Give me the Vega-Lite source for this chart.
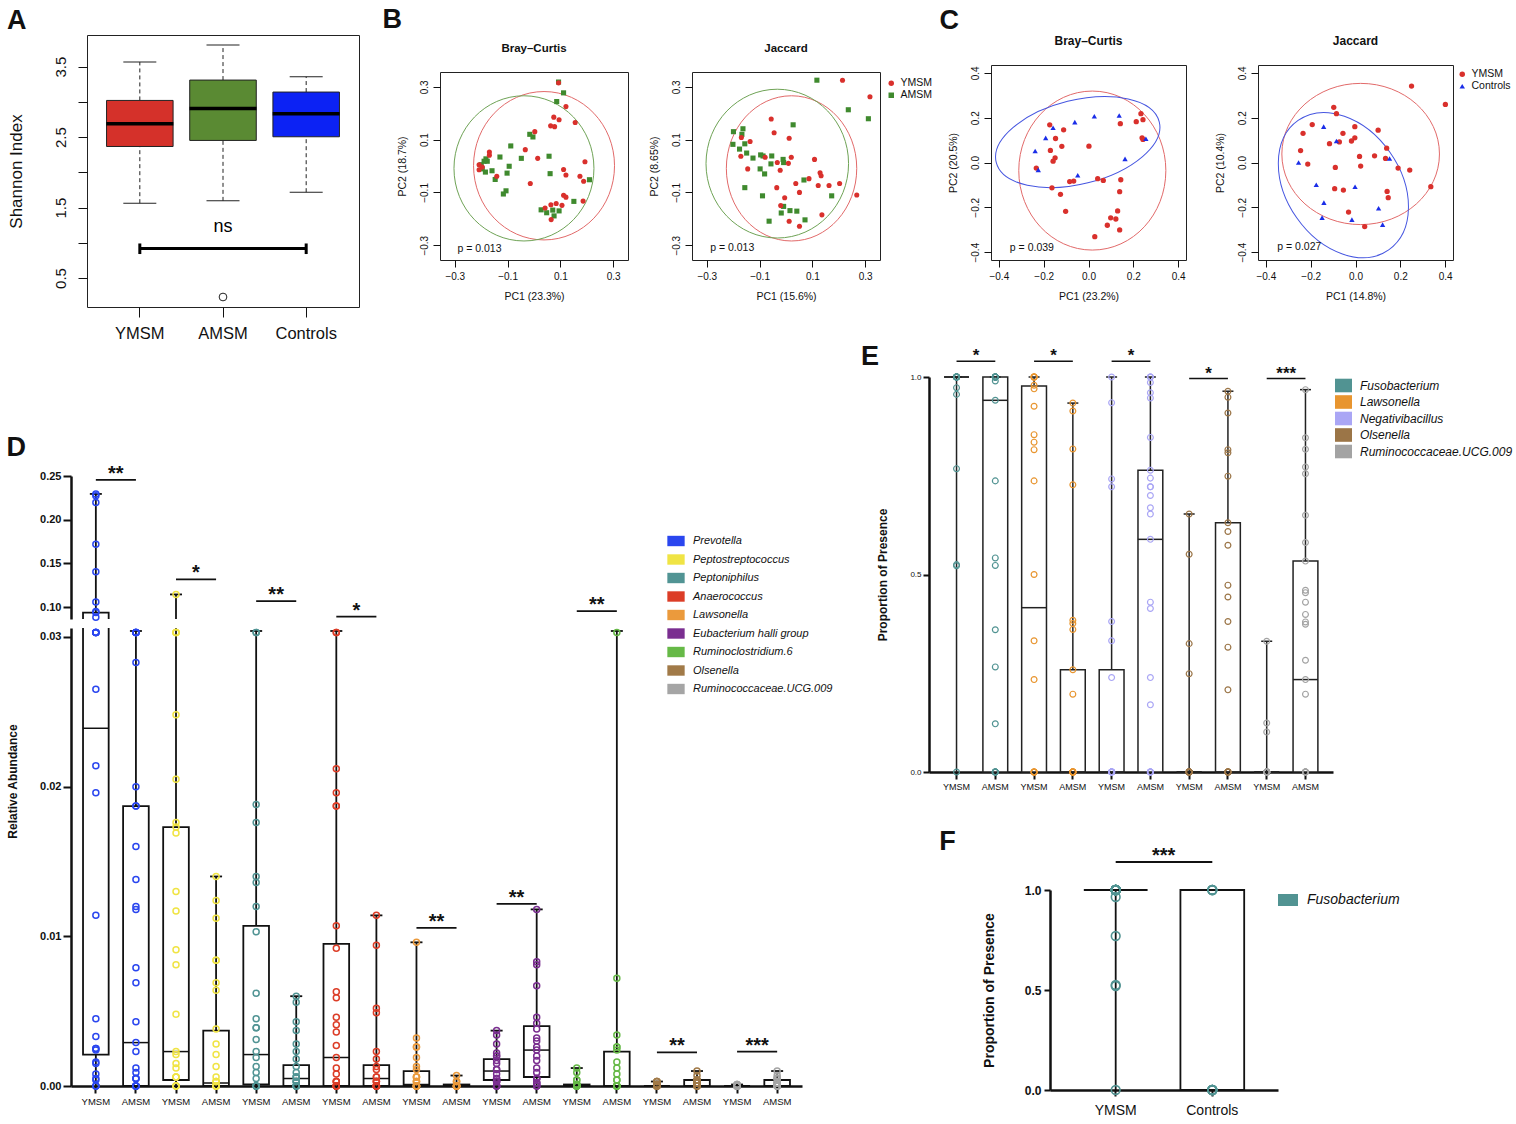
{
"$schema":"https://vega.github.io/schema/vega-lite/v6.json",
"background":"white",
"padding":5,
"config":{
 "font":"Liberation Sans",
 "view":{"stroke":null},
 "axis":{"grid":false,"labelColor":"#111","titleColor":"#111","tickColor":"#111","domainColor":"#111","labelFont":"Liberation Sans","titleFont":"Liberation Sans"},
 "legend":{"labelFont":"Liberation Sans","labelColor":"#111"},
 "title":{"font":"Liberation Sans","color":"#111"}
},
"datasets":{
 "dsum":[
  {"c":"01Y","g":"Prevotella","min":0,"q1":0.0021,"med":0.0239,"q3":0.0937,"max":0.2295},
  {"c":"01A","g":"Prevotella","min":0,"q1":0,"med":0.0029,"q3":0.0187,"max":0.0304},
  {"c":"02Y","g":"Peptostreptococcus","min":0,"q1":0.0004,"med":0.0023,"q3":0.0173,"max":0.1146},
  {"c":"02A","g":"Peptostreptococcus","min":0,"q1":0,"med":0.0002,"q3":0.0037,"max":0.014},
  {"c":"03Y","g":"Peptoniphilus","min":0,"q1":0.0001,"med":0.0021,"q3":0.0107,"max":0.0304},
  {"c":"03A","g":"Peptoniphilus","min":0,"q1":0,"med":0.0005,"q3":0.0014,"max":0.006},
  {"c":"04Y","g":"Anaerococcus","min":0,"q1":0,"med":0.0019,"q3":0.0095,"max":0.0304},
  {"c":"04A","g":"Anaerococcus","min":0,"q1":0,"med":0.0005,"q3":0.0014,"max":0.0114},
  {"c":"05Y","g":"Lawsonella","min":0,"q1":0,"med":0.0001,"q3":0.001,"max":0.0096},
  {"c":"05A","g":"Lawsonella","min":0,"q1":0,"med":0,"q3":0.0001,"max":0.0007},
  {"c":"06Y","g":"Eubacterium halli group","min":0,"q1":0.0004,"med":0.001,"q3":0.0018,"max":0.0037},
  {"c":"06A","g":"Eubacterium halli group","min":0,"q1":0.0006,"med":0.0024,"q3":0.004,"max":0.0118},
  {"c":"07Y","g":"Ruminoclostridium.6","min":0,"q1":0,"med":0,"q3":0.0001,"max":0.0012},
  {"c":"07A","g":"Ruminoclostridium.6","min":0,"q1":0,"med":0,"q3":0.0023,"max":0.0304},
  {"c":"08Y","g":"Olsenella","min":0,"q1":0,"med":0,"q3":0,"max":0.0003},
  {"c":"08A","g":"Olsenella","min":0,"q1":0,"med":0,"q3":0.0004,"max":0.001},
  {"c":"09Y","g":"Ruminococcaceae.UCG.009","min":0,"q1":0,"med":0,"q3":0,"max":0.0001},
  {"c":"09A","g":"Ruminococcaceae.UCG.009","min":0,"q1":0,"med":0,"q3":0.0004,"max":0.001}
 ],
 "dpts":[
  {"c":"01Y","v":0.2295},{"c":"01Y","v":0.2275},{"c":"01Y","v":0.2198},{"c":"01Y","v":0.172},{"c":"01Y","v":0.1405},{"c":"01Y","v":0.106},{"c":"01Y","v":0.095},{"c":"01Y","v":0.094},{"c":"01Y","v":0.0885},{"c":"01Y","v":0.0303},{"c":"01Y","v":0.0303},{"c":"01Y","v":0.0303},{"c":"01Y","v":0.0303},{"c":"01Y","v":0.0303},{"c":"01Y","v":0.0265},{"c":"01Y","v":0.0214},{"c":"01Y","v":0.0196},{"c":"01Y","v":0.0114},{"c":"01Y","v":0.0045},{"c":"01Y","v":0.0033},{"c":"01Y","v":0.0025},{"c":"01Y","v":0.0025},{"c":"01Y","v":0.0024},{"c":"01Y","v":0.0016},{"c":"01Y","v":0.0015},{"c":"01Y","v":0.0008},{"c":"01Y","v":0.0005},{"c":"01Y","v":0.0004},{"c":"01Y","v":0},{"c":"01Y","v":0},{"c":"01Y","v":0},
  {"c":"01A","v":0.0303},{"c":"01A","v":0.0303},{"c":"01A","v":0.0303},{"c":"01A","v":0.0303},{"c":"01A","v":0.0303},{"c":"01A","v":0.0283},{"c":"01A","v":0.02},{"c":"01A","v":0.0187},{"c":"01A","v":0.0187},{"c":"01A","v":0.016},{"c":"01A","v":0.0138},{"c":"01A","v":0.012},{"c":"01A","v":0.0118},{"c":"01A","v":0.0079},{"c":"01A","v":0.0069},{"c":"01A","v":0.0043},{"c":"01A","v":0.0029},{"c":"01A","v":0.0023},{"c":"01A","v":0.0012},{"c":"01A","v":0.0009},{"c":"01A","v":0.0005},{"c":"01A","v":0.0005},{"c":"01A","v":0.0005},{"c":"01A","v":0},{"c":"01A","v":0},{"c":"01A","v":0},{"c":"01A","v":0},{"c":"01A","v":0},{"c":"01A","v":0},{"c":"01A","v":0},{"c":"01A","v":0},
  {"c":"02Y","v":0.1146},{"c":"02Y","v":0.0303},{"c":"02Y","v":0.0303},{"c":"02Y","v":0.0303},{"c":"02Y","v":0.0248},{"c":"02Y","v":0.0205},{"c":"02Y","v":0.0176},{"c":"02Y","v":0.0173},{"c":"02Y","v":0.0169},{"c":"02Y","v":0.013},{"c":"02Y","v":0.0117},{"c":"02Y","v":0.0091},{"c":"02Y","v":0.0081},{"c":"02Y","v":0.0048},{"c":"02Y","v":0.0023},{"c":"02Y","v":0.0021},{"c":"02Y","v":0.0015},{"c":"02Y","v":0.0012},{"c":"02Y","v":0.0006},{"c":"02Y","v":0.0006},{"c":"02Y","v":0.0006},{"c":"02Y","v":0},{"c":"02Y","v":0},{"c":"02Y","v":0},{"c":"02Y","v":0},
  {"c":"02A","v":0.014},{"c":"02A","v":0.0124},{"c":"02A","v":0.0112},{"c":"02A","v":0.0084},{"c":"02A","v":0.0084},{"c":"02A","v":0.0069},{"c":"02A","v":0.0064},{"c":"02A","v":0.0038},{"c":"02A","v":0.0028},{"c":"02A","v":0.0021},{"c":"02A","v":0.0013},{"c":"02A","v":0.0006},{"c":"02A","v":0.0003},{"c":"02A","v":0.0003},{"c":"02A","v":0.0003},{"c":"02A","v":0},{"c":"02A","v":0},{"c":"02A","v":0},{"c":"02A","v":0},{"c":"02A","v":0},{"c":"02A","v":0},{"c":"02A","v":0},{"c":"02A","v":0},
  {"c":"03Y","v":0.0303},{"c":"03Y","v":0.0303},{"c":"03Y","v":0.0188},{"c":"03Y","v":0.0176},{"c":"03Y","v":0.014},{"c":"03Y","v":0.0136},{"c":"03Y","v":0.012},{"c":"03Y","v":0.0103},{"c":"03Y","v":0.0062},{"c":"03Y","v":0.0045},{"c":"03Y","v":0.0039},{"c":"03Y","v":0.0039},{"c":"03Y","v":0.0031},{"c":"03Y","v":0.0023},{"c":"03Y","v":0.0019},{"c":"03Y","v":0.0013},{"c":"03Y","v":0.0009},{"c":"03Y","v":0.0005},{"c":"03Y","v":0},{"c":"03Y","v":0},{"c":"03Y","v":0},{"c":"03Y","v":0},{"c":"03Y","v":0},
  {"c":"03A","v":0.006},{"c":"03A","v":0.0056},{"c":"03A","v":0.0043},{"c":"03A","v":0.0037},{"c":"03A","v":0.0028},{"c":"03A","v":0.0023},{"c":"03A","v":0.0018},{"c":"03A","v":0.0013},{"c":"03A","v":0.0009},{"c":"03A","v":0.0006},{"c":"03A","v":0.0006},{"c":"03A","v":0.0006},{"c":"03A","v":0.0003},{"c":"03A","v":0.0003},{"c":"03A","v":0.0003},{"c":"03A","v":0},{"c":"03A","v":0},{"c":"03A","v":0},{"c":"03A","v":0},{"c":"03A","v":0},{"c":"03A","v":0},
  {"c":"04Y","v":0.0303},{"c":"04Y","v":0.0303},{"c":"04Y","v":0.0212},{"c":"04Y","v":0.0196},{"c":"04Y","v":0.0187},{"c":"04Y","v":0.0187},{"c":"04Y","v":0.0107},{"c":"04Y","v":0.0092},{"c":"04Y","v":0.0063},{"c":"04Y","v":0.0059},{"c":"04Y","v":0.0046},{"c":"04Y","v":0.0041},{"c":"04Y","v":0.0036},{"c":"04Y","v":0.0027},{"c":"04Y","v":0.0019},{"c":"04Y","v":0.0012},{"c":"04Y","v":0.0008},{"c":"04Y","v":0.0003},{"c":"04Y","v":0.0003},{"c":"04Y","v":0.0003},{"c":"04Y","v":0},{"c":"04Y","v":0},{"c":"04Y","v":0},{"c":"04Y","v":0},{"c":"04Y","v":0},{"c":"04Y","v":0},
  {"c":"04A","v":0.0114},{"c":"04A","v":0.0094},{"c":"04A","v":0.0052},{"c":"04A","v":0.0049},{"c":"04A","v":0.0023},{"c":"04A","v":0.0018},{"c":"04A","v":0.0013},{"c":"04A","v":0.0011},{"c":"04A","v":0.0006},{"c":"04A","v":0.0006},{"c":"04A","v":0.0003},{"c":"04A","v":0.0003},{"c":"04A","v":0.0003},{"c":"04A","v":0},{"c":"04A","v":0},{"c":"04A","v":0},{"c":"04A","v":0},{"c":"04A","v":0},{"c":"04A","v":0},{"c":"04A","v":0},{"c":"04A","v":0},
  {"c":"05Y","v":0.0096},{"c":"05Y","v":0.0032},{"c":"05Y","v":0.0026},{"c":"05Y","v":0.0026},{"c":"05Y","v":0.0019},{"c":"05Y","v":0.0013},{"c":"05Y","v":0.0011},{"c":"05Y","v":0.0006},{"c":"05Y","v":0.0006},{"c":"05Y","v":0.0006},{"c":"05Y","v":0.0003},{"c":"05Y","v":0.0003},{"c":"05Y","v":0.0003},{"c":"05Y","v":0},{"c":"05Y","v":0},{"c":"05Y","v":0},{"c":"05Y","v":0},{"c":"05Y","v":0},{"c":"05Y","v":0},{"c":"05Y","v":0},{"c":"05Y","v":0},
  {"c":"05A","v":0.0007},{"c":"05A","v":0.0003},{"c":"05A","v":0.0003},{"c":"05A","v":0.0003},{"c":"05A","v":0},{"c":"05A","v":0},{"c":"05A","v":0},{"c":"05A","v":0},{"c":"05A","v":0},{"c":"05A","v":0},{"c":"05A","v":0},{"c":"05A","v":0},{"c":"05A","v":0},{"c":"05A","v":0},
  {"c":"06Y","v":0.0037},{"c":"06Y","v":0.0034},{"c":"06Y","v":0.0028},{"c":"06Y","v":0.0022},{"c":"06Y","v":0.002},{"c":"06Y","v":0.002},{"c":"06Y","v":0.0017},{"c":"06Y","v":0.0015},{"c":"06Y","v":0.0011},{"c":"06Y","v":0.0011},{"c":"06Y","v":0.0008},{"c":"06Y","v":0.0005},{"c":"06Y","v":0.0005},{"c":"06Y","v":0.0003},{"c":"06Y","v":0.0003},{"c":"06Y","v":0.0003},{"c":"06Y","v":0},{"c":"06Y","v":0},{"c":"06Y","v":0},{"c":"06Y","v":0},
  {"c":"06A","v":0.0118},{"c":"06A","v":0.0083},{"c":"06A","v":0.0081},{"c":"06A","v":0.0067},{"c":"06A","v":0.0046},{"c":"06A","v":0.0042},{"c":"06A","v":0.0038},{"c":"06A","v":0.0032},{"c":"06A","v":0.003},{"c":"06A","v":0.0026},{"c":"06A","v":0.0024},{"c":"06A","v":0.002},{"c":"06A","v":0.0017},{"c":"06A","v":0.0012},{"c":"06A","v":0.0009},{"c":"06A","v":0.0005},{"c":"06A","v":0.0005},{"c":"06A","v":0.0005},{"c":"06A","v":0.0002},{"c":"06A","v":0.0002},{"c":"06A","v":0.0002},{"c":"06A","v":0},{"c":"06A","v":0},{"c":"06A","v":0},
  {"c":"07Y","v":0.0012},{"c":"07Y","v":0.0009},{"c":"07Y","v":0.0004},{"c":"07Y","v":0.0004},{"c":"07Y","v":0.0001},{"c":"07Y","v":0.0001},{"c":"07Y","v":0.0001},{"c":"07Y","v":0.0001},{"c":"07Y","v":0},{"c":"07Y","v":0},{"c":"07Y","v":0},{"c":"07Y","v":0},{"c":"07Y","v":0},{"c":"07Y","v":0},{"c":"07Y","v":0},{"c":"07Y","v":0},
  {"c":"07A","v":0.0303},{"c":"07A","v":0.0072},{"c":"07A","v":0.0034},{"c":"07A","v":0.0026},{"c":"07A","v":0.0026},{"c":"07A","v":0.0024},{"c":"07A","v":0.0016},{"c":"07A","v":0.0012},{"c":"07A","v":0.0008},{"c":"07A","v":0.0004},{"c":"07A","v":0.0004},{"c":"07A","v":0},{"c":"07A","v":0},{"c":"07A","v":0},{"c":"07A","v":0},{"c":"07A","v":0},{"c":"07A","v":0},{"c":"07A","v":0},{"c":"07A","v":0},
  {"c":"08Y","v":0.0003},{"c":"08Y","v":0.0003},{"c":"08Y","v":0.0003},{"c":"08Y","v":0.0001},{"c":"08Y","v":0.0001},{"c":"08Y","v":0.0001},{"c":"08Y","v":0.0001},{"c":"08Y","v":0},{"c":"08Y","v":0},{"c":"08Y","v":0},{"c":"08Y","v":0},{"c":"08Y","v":0},{"c":"08Y","v":0},{"c":"08Y","v":0},{"c":"08Y","v":0},{"c":"08Y","v":0},{"c":"08Y","v":0},
  {"c":"08A","v":0.001},{"c":"08A","v":0.0007},{"c":"08A","v":0.0004},{"c":"08A","v":0.0004},{"c":"08A","v":0.0004},{"c":"08A","v":0.0002},{"c":"08A","v":0.0002},{"c":"08A","v":0.0002},{"c":"08A","v":0.0002},{"c":"08A","v":0},{"c":"08A","v":0},{"c":"08A","v":0},{"c":"08A","v":0},{"c":"08A","v":0},{"c":"08A","v":0},{"c":"08A","v":0},{"c":"08A","v":0},
  {"c":"09Y","v":0.0001},{"c":"09Y","v":0.0001},{"c":"09Y","v":0.0001},{"c":"09Y","v":0},{"c":"09Y","v":0},{"c":"09Y","v":0},{"c":"09Y","v":0},{"c":"09Y","v":0},{"c":"09Y","v":0},{"c":"09Y","v":0},{"c":"09Y","v":0},{"c":"09Y","v":0},{"c":"09Y","v":0},{"c":"09Y","v":0},{"c":"09Y","v":0},{"c":"09Y","v":0},{"c":"09Y","v":0},{"c":"09Y","v":0},
  {"c":"09A","v":0.001},{"c":"09A","v":0.0007},{"c":"09A","v":0.0005},{"c":"09A","v":0.0005},{"c":"09A","v":0.0005},{"c":"09A","v":0.0002},{"c":"09A","v":0.0002},{"c":"09A","v":0.0002},{"c":"09A","v":0.0002},{"c":"09A","v":0},{"c":"09A","v":0},{"c":"09A","v":0},{"c":"09A","v":0},{"c":"09A","v":0},{"c":"09A","v":0},{"c":"09A","v":0},{"c":"09A","v":0}
 ],
 "esum":[
  {"c":"1Y","g":"Fusobacterium","min":0,"q1":1,"med":1,"q3":1,"max":1},
  {"c":"1A","g":"Fusobacterium","min":0,"q1":0,"med":0.941,"q3":1,"max":1},
  {"c":"2Y","g":"Lawsonella","min":0,"q1":0,"med":0.416,"q3":0.977,"max":1},
  {"c":"2A","g":"Lawsonella","min":0,"q1":0,"med":0,"q3":0.259,"max":0.934},
  {"c":"3Y","g":"Negativibacillus","min":0,"q1":0,"med":0,"q3":0.259,"max":1},
  {"c":"3A","g":"Negativibacillus","min":0,"q1":0,"med":0.589,"q3":0.764,"max":1},
  {"c":"4Y","g":"Olsenella","min":0,"q1":0,"med":0,"q3":0,"max":0.653},
  {"c":"4A","g":"Olsenella","min":0,"q1":0,"med":0,"q3":0.631,"max":0.964},
  {"c":"5Y","g":"Ruminococcaceae.UCG.009","min":0,"q1":0,"med":0,"q3":0,"max":0.331},
  {"c":"5A","g":"Ruminococcaceae.UCG.009","min":0,"q1":0,"med":0.234,"q3":0.534,"max":0.968}
 ],
 "epts":[
  {"c":"1Y","v":1},{"c":"1Y","v":1},{"c":"1Y","v":1},{"c":"1Y","v":1},{"c":"1Y","v":1},{"c":"1Y","v":1},{"c":"1Y","v":1},{"c":"1Y","v":1},{"c":"1Y","v":1},{"c":"1Y","v":1},{"c":"1Y","v":1},{"c":"1Y","v":1},{"c":"1Y","v":1},{"c":"1Y","v":1},{"c":"1Y","v":1},{"c":"1Y","v":0.973},{"c":"1Y","v":0.956},{"c":"1Y","v":0.768},{"c":"1Y","v":0.525},{"c":"1Y","v":0.522},{"c":"1Y","v":0},
  {"c":"1A","v":1},{"c":"1A","v":1},{"c":"1A","v":1},{"c":"1A","v":1},{"c":"1A","v":1},{"c":"1A","v":1},{"c":"1A","v":1},{"c":"1A","v":1},{"c":"1A","v":1},{"c":"1A","v":1},{"c":"1A","v":0.99},{"c":"1A","v":0.941},{"c":"1A","v":0.737},{"c":"1A","v":0.542},{"c":"1A","v":0.523},{"c":"1A","v":0.36},{"c":"1A","v":0.266},{"c":"1A","v":0.122},{"c":"1A","v":0},{"c":"1A","v":0},{"c":"1A","v":0},{"c":"1A","v":0},{"c":"1A","v":0},{"c":"1A","v":0},
  {"c":"2Y","v":1},{"c":"2Y","v":1},{"c":"2Y","v":1},{"c":"2Y","v":1},{"c":"2Y","v":1},{"c":"2Y","v":0.979},{"c":"2Y","v":0.97},{"c":"2Y","v":0.926},{"c":"2Y","v":0.854},{"c":"2Y","v":0.835},{"c":"2Y","v":0.816},{"c":"2Y","v":0.737},{"c":"2Y","v":0.5},{"c":"2Y","v":0.332},{"c":"2Y","v":0.234},{"c":"2Y","v":0},{"c":"2Y","v":0},{"c":"2Y","v":0},{"c":"2Y","v":0},{"c":"2Y","v":0},
  {"c":"2A","v":0.934},{"c":"2A","v":0.914},{"c":"2A","v":0.818},{"c":"2A","v":0.727},{"c":"2A","v":0.384},{"c":"2A","v":0.376},{"c":"2A","v":0.361},{"c":"2A","v":0.259},{"c":"2A","v":0.197},{"c":"2A","v":0},{"c":"2A","v":0},{"c":"2A","v":0},{"c":"2A","v":0},{"c":"2A","v":0},{"c":"2A","v":0},{"c":"2A","v":0},{"c":"2A","v":0},{"c":"2A","v":0},{"c":"2A","v":0},
  {"c":"3Y","v":1},{"c":"3Y","v":0.935},{"c":"3Y","v":0.742},{"c":"3Y","v":0.722},{"c":"3Y","v":0.381},{"c":"3Y","v":0.332},{"c":"3Y","v":0.239},{"c":"3Y","v":0},{"c":"3Y","v":0},{"c":"3Y","v":0},{"c":"3Y","v":0},{"c":"3Y","v":0},{"c":"3Y","v":0},{"c":"3Y","v":0},{"c":"3Y","v":0},{"c":"3Y","v":0},{"c":"3Y","v":0},{"c":"3Y","v":0},{"c":"3Y","v":0},
  {"c":"3A","v":1},{"c":"3A","v":1},{"c":"3A","v":1},{"c":"3A","v":0.986},{"c":"3A","v":0.96},{"c":"3A","v":0.947},{"c":"3A","v":0.847},{"c":"3A","v":0.764},{"c":"3A","v":0.744},{"c":"3A","v":0.722},{"c":"3A","v":0.722},{"c":"3A","v":0.7},{"c":"3A","v":0.669},{"c":"3A","v":0.653},{"c":"3A","v":0.589},{"c":"3A","v":0.43},{"c":"3A","v":0.414},{"c":"3A","v":0.239},{"c":"3A","v":0.17},{"c":"3A","v":0},{"c":"3A","v":0},{"c":"3A","v":0},{"c":"3A","v":0},{"c":"3A","v":0},{"c":"3A","v":0},
  {"c":"4Y","v":0.653},{"c":"4Y","v":0.551},{"c":"4Y","v":0.325},{"c":"4Y","v":0.249},{"c":"4Y","v":0},{"c":"4Y","v":0},{"c":"4Y","v":0},{"c":"4Y","v":0},{"c":"4Y","v":0},{"c":"4Y","v":0},{"c":"4Y","v":0},{"c":"4Y","v":0},{"c":"4Y","v":0},{"c":"4Y","v":0},{"c":"4Y","v":0},{"c":"4Y","v":0},{"c":"4Y","v":0},{"c":"4Y","v":0},
  {"c":"4A","v":0.964},{"c":"4A","v":0.949},{"c":"4A","v":0.909},{"c":"4A","v":0.816},{"c":"4A","v":0.808},{"c":"4A","v":0.749},{"c":"4A","v":0.631},{"c":"4A","v":0.609},{"c":"4A","v":0.574},{"c":"4A","v":0.473},{"c":"4A","v":0.443},{"c":"4A","v":0.381},{"c":"4A","v":0.316},{"c":"4A","v":0.208},{"c":"4A","v":0},{"c":"4A","v":0},{"c":"4A","v":0},{"c":"4A","v":0},{"c":"4A","v":0},{"c":"4A","v":0},{"c":"4A","v":0},{"c":"4A","v":0},
  {"c":"5Y","v":0.331},{"c":"5Y","v":0.124},{"c":"5Y","v":0.101},{"c":"5Y","v":0},{"c":"5Y","v":0},{"c":"5Y","v":0},{"c":"5Y","v":0},{"c":"5Y","v":0},{"c":"5Y","v":0},{"c":"5Y","v":0},{"c":"5Y","v":0},{"c":"5Y","v":0},{"c":"5Y","v":0},{"c":"5Y","v":0},{"c":"5Y","v":0},{"c":"5Y","v":0},{"c":"5Y","v":0},{"c":"5Y","v":0},
  {"c":"5A","v":0.968},{"c":"5A","v":0.846},{"c":"5A","v":0.817},{"c":"5A","v":0.772},{"c":"5A","v":0.755},{"c":"5A","v":0.65},{"c":"5A","v":0.581},{"c":"5A","v":0.534},{"c":"5A","v":0.46},{"c":"5A","v":0.454},{"c":"5A","v":0.43},{"c":"5A","v":0.399},{"c":"5A","v":0.38},{"c":"5A","v":0.374},{"c":"5A","v":0.283},{"c":"5A","v":0.234},{"c":"5A","v":0.197},{"c":"5A","v":0},{"c":"5A","v":0},{"c":"5A","v":0},{"c":"5A","v":0},{"c":"5A","v":0},{"c":"5A","v":0}
 ],
 "fsum":[
  {"c":"YMSM","g":"Fusobacterium","min":0,"q1":1,"med":1,"q3":1,"max":1},
  {"c":"Controls","g":"Fusobacterium","min":0,"q1":0,"med":0,"q3":1,"max":1}
 ],
 "fpts":[
  {"c":"YMSM","v":1},{"c":"YMSM","v":1},{"c":"YMSM","v":1},{"c":"YMSM","v":1},{"c":"YMSM","v":1},{"c":"YMSM","v":1},{"c":"YMSM","v":1},{"c":"YMSM","v":1},{"c":"YMSM","v":1},{"c":"YMSM","v":1},{"c":"YMSM","v":1},{"c":"YMSM","v":1},{"c":"YMSM","v":1},{"c":"YMSM","v":1},{"c":"YMSM","v":1},{"c":"YMSM","v":1},{"c":"YMSM","v":1},{"c":"YMSM","v":1},{"c":"YMSM","v":1},{"c":"YMSM","v":1},{"c":"YMSM","v":0.965},{"c":"YMSM","v":0.77},{"c":"YMSM","v":0.525},{"c":"YMSM","v":0.52},{"c":"YMSM","v":0},
  {"c":"Controls","v":1},{"c":"Controls","v":1},{"c":"Controls","v":1},{"c":"Controls","v":1},{"c":"Controls","v":0},{"c":"Controls","v":0},{"c":"Controls","v":0},{"c":"Controls","v":0},{"c":"Controls","v":0},{"c":"Controls","v":0},{"c":"Controls","v":0}
 ]
},
"spacing":0,
"resolve":{"scale":{"x":"independent","y":"independent","color":"independent","shape":"independent","fill":"independent","stroke":"independent"}},
"vconcat":[
 {
  "spacing":0,
  "resolve":{"scale":{"x":"independent","y":"independent","color":"independent","shape":"independent","fill":"independent","stroke":"independent"}},
  "hconcat":[
   {"width":1,"height":1,"data":{"values":[]},"mark":"point"},
   {
    "spacing":22,
    "resolve":{"scale":{"x":"independent","y":"independent","color":"independent","shape":"independent","fill":"independent","stroke":"independent"}},
    "hconcat":[
     {
      "spacing":0,
      "resolve":{"scale":{"x":"independent","y":"independent","color":"independent","shape":"independent","fill":"independent","stroke":"independent"}},
      "vconcat":[
       {"width":1,"height":1,"data":{"values":[]},"mark":"point"},
       {
        "title":{"text":"A","anchor":"start","fontSize":27,"fontWeight":"bold","offset":0},
        "width":272,"height":272,
        "view":{"stroke":"#222","strokeWidth":1},
        "data":{"values":[
         {"grp":"YMSM","min":1.562,"q1":2.367,"med":2.69,"q3":3.021,"max":3.566},
         {"grp":"AMSM","min":1.595,"q1":2.453,"med":2.908,"q3":3.31,"max":3.808},
         {"grp":"Controls","min":1.718,"q1":2.505,"med":2.832,"q3":3.14,"max":3.358}
        ]},
        "encoding":{"x":{"field":"grp","type":"nominal","scale":{"domain":["YMSM","AMSM","Controls"],"paddingInner":0.2,"paddingOuter":0.235},
          "axis":{"title":null,"labelAngle":0,"labelFontSize":16.5,"labelPadding":8,"tickSize":10,"domain":false}}},
        "layer":[
         {"mark":{"type":"rule","strokeDash":[4,3],"color":"#222","strokeWidth":1},
          "encoding":{"y":{"field":"q3","type":"quantitative","scale":{"domain":[0.088,3.95]},
            "axis":{"title":"Shannon Index","titleFontSize":17,"titleFontWeight":"normal","titlePadding":28,"values":[0.5,1,1.5,2,2.5,3,3.5],"labelExpr":"(datum.value==0.5||datum.value==1.5||datum.value==2.5||datum.value==3.5)?format(datum.value,'.1f'):''","labelAngle":-90,"labelAlign":"center","labelBaseline":"bottom","labelFontSize":15,"labelPadding":10,"tickSize":9,"domain":false,"labelOverlap":false}},
           "y2":{"field":"max"}}},
         {"mark":{"type":"rule","strokeDash":[4,3],"color":"#222","strokeWidth":1},
          "encoding":{"y":{"field":"min","type":"quantitative","scale":{"domain":[0.088,3.95]}},"y2":{"field":"q1"}}},
         {"mark":{"type":"tick","size":33,"thickness":1,"color":"#222","opacity":1},
          "encoding":{"y":{"field":"max","type":"quantitative","scale":{"domain":[0.088,3.95]}}}},
         {"mark":{"type":"tick","size":33,"thickness":1,"color":"#222","opacity":1},
          "encoding":{"y":{"field":"min","type":"quantitative","scale":{"domain":[0.088,3.95]}}}},
         {"mark":{"type":"bar","stroke":"#222","strokeWidth":1},
          "encoding":{"y":{"field":"q1","type":"quantitative","scale":{"domain":[0.088,3.95]}},"y2":{"field":"q3"},
           "fill":{"field":"grp","type":"nominal","scale":{"domain":["YMSM","AMSM","Controls"],"range":["#d5312a","#5a8a33","#0c22f4"]},"legend":null}}},
         {"mark":{"type":"tick","size":67,"thickness":3.5,"color":"#000","opacity":1},
          "encoding":{"y":{"field":"med","type":"quantitative","scale":{"domain":[0.088,3.95]}}}},
         {"data":{"values":[{"grp":"AMSM","v":0.23}]},
          "mark":{"type":"point","shape":"circle","filled":false,"size":60,"color":"#222","opacity":1,"strokeWidth":1},
          "encoding":{"y":{"field":"v","type":"quantitative","scale":{"domain":[0.088,3.95]}}}},
         {"data":{"values":[{"a":"YMSM","b":"Controls","y":0.917}]},
          "mark":{"type":"rule","strokeWidth":3,"color":"#000"},
          "encoding":{"x":{"field":"a","type":"nominal"},"x2":{"field":"b"},"y":{"field":"y","type":"quantitative","scale":{"domain":[0.088,3.95]}}}},
         {"data":{"values":[{"grp":"YMSM","lo":0.84,"hi":0.99},{"grp":"Controls","lo":0.84,"hi":0.99}]},
          "mark":{"type":"rule","strokeWidth":3,"color":"#000"},
          "encoding":{"y":{"field":"lo","type":"quantitative","scale":{"domain":[0.088,3.95]}},"y2":{"field":"hi"}}},
         {"data":{"values":[{"grp":"AMSM","y":1.1,"t":"ns"}]},
          "mark":{"type":"text","fontSize":18,"baseline":"bottom","color":"#000"},
          "encoding":{"y":{"field":"y","type":"quantitative","scale":{"domain":[0.088,3.95]}},"text":{"field":"t"}}}
        ]
       }
      ]
     },
     {
      "spacing":0,
      "resolve":{"scale":{"x":"independent","y":"independent","color":"independent","shape":"independent","fill":"independent","stroke":"independent"}},
      "hconcat":[
       {
        "spacing":0,
        "resolve":{"scale":{"x":"independent","y":"independent","color":"independent","shape":"independent","fill":"independent","stroke":"independent"}},
        "vconcat":[
         {"width":1,"height":1,"data":{"values":[]},"mark":"point"},
         {
          "title":{"text":"B","anchor":"start","fontSize":27,"fontWeight":"bold","offset":8,"dx":-14},
          "spacing":19,
          "resolve":{"scale":{"x":"independent","y":"independent","color":"independent","shape":"independent","fill":"independent","stroke":"independent"}},
          "hconcat":[
           {
            "title":{"text":"Bray–Curtis","anchor":"middle","frame":"group","fontSize":11.5,"fontWeight":"bold","offset":18},
            "width":188,"height":188,"view":{"stroke":"#222"},
            "layer":[
             {"data":{"values":[{"x":0.038,"y":0.001}]},
              "mark":{"type":"point","shape":"M-0.95,0C-0.95,-0.5523,-0.5247,-1,0,-1C0.5247,-1,0.95,-0.5523,0.95,0C0.95,0.5523,0.5247,1,0,1C-0.5247,1,-0.95,0.5523,-0.95,0Z","size":22023,"filled":false,"stroke":"#e26a6a","strokeWidth":1,"opacity":1},
              "encoding":{"x":{"field":"x","type":"quantitative","scale":{"domain":[-0.356,0.356]},
                "axis":{"title":"PC1 (23.3%)","values":[-0.3,-0.2,-0.1,0,0.1,0.2,0.3],"labelExpr":"datum.value==-0.2?'':format(datum.value,'.1f')","domain":false,"tickSize":7,"labelFontSize":10,"titleFontSize":10.5,"titleFontWeight":"normal","labelPadding":4,"titlePadding":10,"labelFlush":false,"labelOverlap":false}},
               "y":{"field":"y","type":"quantitative","scale":{"domain":[-0.356,0.356]},
                "axis":{"title":"PC2 (18.7%)","values":[-0.3,-0.2,-0.1,0,0.1,0.2,0.3],"labelExpr":"datum.value==-0.2?'':format(datum.value,'.1f')","labelAngle":-90,"labelAlign":"center","labelBaseline":"bottom","domain":false,"tickSize":7,"labelFontSize":10,"titleFontSize":10.5,"titleFontWeight":"normal","labelPadding":4,"titlePadding":12,"labelOverlap":false}}}},
             {"data":{"values":[{"x":-0.038,"y":-0.009}]},
              "mark":{"type":"point","shape":"M-0.964,0C-0.964,-0.5523,-0.5324,-1,0,-1C0.5324,-1,0.964,-0.5523,0.964,0C0.964,0.5523,0.5324,1,0,1C-0.5324,1,-0.964,0.5523,-0.964,0Z","size":21083,"filled":false,"stroke":"#6fa356","strokeWidth":1,"opacity":1},
              "encoding":{"x":{"field":"x","type":"quantitative","scale":{"domain":[-0.356,0.356]}},"y":{"field":"y","type":"quantitative","scale":{"domain":[-0.356,0.356]}}}},
             {"data":{"values":[
               {"x":0.093,"y":0.318,"grp":"AMSM"},{"x":0.112,"y":0.277,"grp":"AMSM"},{"x":0.086,"y":0.244,"grp":"AMSM"},{"x":-0.016,"y":0.12,"grp":"AMSM"},{"x":-0.004,"y":0.11,"grp":"AMSM"},{"x":-0.088,"y":0.076,"grp":"AMSM"},{"x":-0.129,"y":0.034,"grp":"AMSM"},{"x":-0.048,"y":0.029,"grp":"AMSM"},{"x":0.057,"y":0.037,"grp":"AMSM"},{"x":-0.182,"y":0.027,"grp":"AMSM"},{"x":-0.189,"y":0.018,"grp":"AMSM"},{"x":-0.177,"y":0.018,"grp":"AMSM"},{"x":-0.2,"y":0.005,"grp":"AMSM"},{"x":-0.196,"y":-0.011,"grp":"AMSM"},{"x":-0.184,"y":-0.023,"grp":"AMSM"},{"x":-0.159,"y":-0.018,"grp":"AMSM"},{"x":-0.147,"y":-0.051,"grp":"AMSM"},{"x":-0.094,"y":-0.001,"grp":"AMSM"},{"x":-0.102,"y":-0.027,"grp":"AMSM"},{"x":-0.106,"y":-0.094,"grp":"AMSM"},{"x":-0.116,"y":-0.106,"grp":"AMSM"},{"x":0.061,"y":-0.029,"grp":"AMSM"},{"x":0.21,"y":-0.052,"grp":"AMSM"},{"x":0.151,"y":-0.134,"grp":"AMSM"},{"x":0.027,"y":-0.166,"grp":"AMSM"},{"x":0.048,"y":-0.177,"grp":"AMSM"},{"x":0.071,"y":-0.167,"grp":"AMSM"},{"x":0.095,"y":-0.17,"grp":"AMSM"},{"x":0.076,"y":-0.189,"grp":"AMSM"},
               {"x":0.093,"y":0.315,"grp":"YMSM"},{"x":0.121,"y":0.225,"grp":"YMSM"},{"x":0.075,"y":0.185,"grp":"YMSM"},{"x":0.095,"y":0.175,"grp":"YMSM"},{"x":0.063,"y":0.152,"grp":"YMSM"},{"x":0.078,"y":0.149,"grp":"YMSM"},{"x":0.156,"y":0.165,"grp":"YMSM"},{"x":0.003,"y":0.13,"grp":"YMSM"},{"x":-0.033,"y":0.062,"grp":"YMSM"},{"x":0.014,"y":0.029,"grp":"YMSM"},{"x":-0.169,"y":0.053,"grp":"YMSM"},{"x":-0.169,"y":0.041,"grp":"YMSM"},{"x":-0.141,"y":-0.039,"grp":"YMSM"},{"x":-0.208,"y":0.005,"grp":"YMSM"},{"x":-0.208,"y":-0.014,"grp":"YMSM"},{"x":-0.196,"y":-0.004,"grp":"YMSM"},{"x":-0.014,"y":-0.066,"grp":"YMSM"},{"x":0.112,"y":-0.013,"grp":"YMSM"},{"x":0.121,"y":-0.034,"grp":"YMSM"},{"x":0.193,"y":0.016,"grp":"YMSM"},{"x":0.174,"y":-0.039,"grp":"YMSM"},{"x":0.188,"y":-0.058,"grp":"YMSM"},{"x":0.186,"y":-0.133,"grp":"YMSM"},{"x":0.112,"y":-0.111,"grp":"YMSM"},{"x":0.121,"y":-0.118,"grp":"YMSM"},{"x":0.084,"y":-0.142,"grp":"YMSM"},{"x":0.064,"y":-0.147,"grp":"YMSM"},{"x":0.042,"y":-0.159,"grp":"YMSM"},{"x":0.106,"y":-0.149,"grp":"YMSM"},{"x":0.065,"y":-0.203,"grp":"YMSM"}
              ]},
              "mark":{"type":"point","filled":true,"size":26,"opacity":1},
              "encoding":{"x":{"field":"x","type":"quantitative","scale":{"domain":[-0.356,0.356]}},"y":{"field":"y","type":"quantitative","scale":{"domain":[-0.356,0.356]}},
               "color":{"field":"grp","type":"nominal","scale":{"domain":["YMSM","AMSM"],"range":["#d9302c","#3f8a2e"]},"legend":null},
               "shape":{"field":"grp","type":"nominal","scale":{"domain":["YMSM","AMSM"],"range":["circle","square"]},"legend":null}}},
             {"data":{"values":[{"x":-0.29,"y":-0.313,"t":"p = 0.013"}]},
              "mark":{"type":"text","align":"left","baseline":"middle","fontSize":10.5,"color":"#111"},
              "encoding":{"x":{"field":"x","type":"quantitative","scale":{"domain":[-0.356,0.356]}},"y":{"field":"y","type":"quantitative","scale":{"domain":[-0.356,0.356]}},"text":{"field":"t"}}}
            ]
           },
           {
            "title":{"text":"Jaccard","anchor":"middle","frame":"group","fontSize":11.5,"fontWeight":"bold","offset":18},
            "width":188,"height":188,"view":{"stroke":"#222"},
            "layer":[
             {"data":{"values":[{"x":0.021,"y":-0.009}]},
              "mark":{"type":"point","shape":"M-0.898,0C-0.898,-0.5523,-0.496,-1,0,-1C0.496,-1,0.898,-0.5523,0.898,0C0.898,0.5523,0.496,1,0,1C-0.496,1,-0.898,0.5523,-0.898,0Z","size":21083,"filled":false,"stroke":"#e26a6a","strokeWidth":1,"opacity":1},
              "encoding":{"x":{"field":"x","type":"quantitative","scale":{"domain":[-0.356,0.356]},
                "axis":{"title":"PC1 (15.6%)","values":[-0.3,-0.2,-0.1,0,0.1,0.2,0.3],"labelExpr":"datum.value==-0.2?'':format(datum.value,'.1f')","domain":false,"tickSize":7,"labelFontSize":10,"titleFontSize":10.5,"titleFontWeight":"normal","labelPadding":4,"titlePadding":10,"labelFlush":false,"labelOverlap":false}},
               "y":{"field":"y","type":"quantitative","scale":{"domain":[-0.356,0.356]},
                "axis":{"title":"PC2 (8.65%)","values":[-0.3,-0.2,-0.1,0,0.1,0.2,0.3],"labelExpr":"datum.value==-0.2?'':format(datum.value,'.1f')","labelAngle":-90,"labelAlign":"center","labelBaseline":"bottom","domain":false,"tickSize":7,"labelFontSize":10,"titleFontSize":10.5,"titleFontWeight":"normal","labelPadding":4,"titlePadding":12,"labelOverlap":false}}}},
             {"data":{"values":[{"x":-0.033,"y":0.009}]},
              "mark":{"type":"point","shape":"M-0.958,0C-0.958,-0.5523,-0.5291,-1,0,-1C0.5291,-1,0.958,-0.5523,0.958,0C0.958,0.5523,0.5291,1,0,1C-0.5291,1,-0.958,0.5523,-0.958,0Z","size":22141,"filled":false,"stroke":"#6fa356","strokeWidth":1,"opacity":1},
              "encoding":{"x":{"field":"x","type":"quantitative","scale":{"domain":[-0.356,0.356]}},"y":{"field":"y","type":"quantitative","scale":{"domain":[-0.356,0.356]}}}},
             {"data":{"values":[
               {"x":0.117,"y":0.325,"grp":"AMSM"},{"x":0.236,"y":0.213,"grp":"AMSM"},{"x":0.312,"y":0.179,"grp":"AMSM"},{"x":0.027,"y":0.156,"grp":"AMSM"},{"x":-0.199,"y":0.13,"grp":"AMSM"},{"x":-0.163,"y":0.141,"grp":"AMSM"},{"x":-0.167,"y":0.12,"grp":"AMSM"},{"x":-0.156,"y":0.084,"grp":"AMSM"},{"x":-0.201,"y":0.082,"grp":"AMSM"},{"x":-0.176,"y":0.064,"grp":"AMSM"},{"x":-0.149,"y":0.049,"grp":"AMSM"},{"x":-0.125,"y":0.03,"grp":"AMSM"},{"x":-0.096,"y":0.042,"grp":"AMSM"},{"x":-0.087,"y":0.038,"grp":"AMSM"},{"x":-0.054,"y":0.038,"grp":"AMSM"},{"x":-0.011,"y":0.025,"grp":"AMSM"},{"x":-0.009,"y":0.013,"grp":"AMSM"},{"x":-0.057,"y":0.008,"grp":"AMSM"},{"x":-0.098,"y":-0.011,"grp":"AMSM"},{"x":-0.081,"y":-0.03,"grp":"AMSM"},{"x":-0.156,"y":-0.082,"grp":"AMSM"},{"x":-0.089,"y":-0.113,"grp":"AMSM"},{"x":0.068,"y":-0.053,"grp":"AMSM"},{"x":0.173,"y":-0.113,"grp":"AMSM"},{"x":-0.009,"y":-0.153,"grp":"AMSM"},{"x":-0.018,"y":-0.178,"grp":"AMSM"},{"x":0.015,"y":-0.169,"grp":"AMSM"},{"x":0.041,"y":-0.171,"grp":"AMSM"},{"x":0.072,"y":-0.204,"grp":"AMSM"},{"x":-0.064,"y":-0.209,"grp":"AMSM"},
               {"x":0.214,"y":0.325,"grp":"YMSM"},{"x":0.318,"y":0.262,"grp":"YMSM"},{"x":-0.056,"y":0.178,"grp":"YMSM"},{"x":-0.045,"y":0.126,"grp":"YMSM"},{"x":0.012,"y":0.105,"grp":"YMSM"},{"x":-0.169,"y":0.108,"grp":"YMSM"},{"x":-0.136,"y":0.093,"grp":"YMSM"},{"x":-0.171,"y":0.037,"grp":"YMSM"},{"x":-0.079,"y":0.033,"grp":"YMSM"},{"x":-0.145,"y":-0.011,"grp":"YMSM"},{"x":-0.033,"y":0.013,"grp":"YMSM"},{"x":0.009,"y":0.01,"grp":"YMSM"},{"x":0.02,"y":0.033,"grp":"YMSM"},{"x":0.108,"y":0.025,"grp":"YMSM"},{"x":-0.022,"y":-0.016,"grp":"YMSM"},{"x":-0.035,"y":-0.082,"grp":"YMSM"},{"x":0.037,"y":-0.066,"grp":"YMSM"},{"x":0.087,"y":-0.048,"grp":"YMSM"},{"x":0.051,"y":-0.1,"grp":"YMSM"},{"x":-0.005,"y":-0.12,"grp":"YMSM"},{"x":0.122,"y":-0.074,"grp":"YMSM"},{"x":0.163,"y":-0.074,"grp":"YMSM"},{"x":0.129,"y":-0.026,"grp":"YMSM"},{"x":0.133,"y":-0.037,"grp":"YMSM"},{"x":0.203,"y":-0.066,"grp":"YMSM"},{"x":0.268,"y":-0.11,"grp":"YMSM"},{"x":-0.02,"y":-0.15,"grp":"YMSM"},{"x":0.012,"y":-0.209,"grp":"YMSM"},{"x":0.051,"y":-0.228,"grp":"YMSM"},{"x":0.136,"y":-0.185,"grp":"YMSM"}
              ]},
              "mark":{"type":"point","filled":true,"size":26,"opacity":1},
              "encoding":{"x":{"field":"x","type":"quantitative","scale":{"domain":[-0.356,0.356]}},"y":{"field":"y","type":"quantitative","scale":{"domain":[-0.356,0.356]}},
               "color":{"field":"grp","type":"nominal","scale":{"domain":["YMSM","AMSM"],"range":["#d9302c","#3f8a2e"]},"legend":{"title":null,"orient":"right","offset":0,"padding":6,"labelFontSize":10.5,"symbolSize":30,"rowPadding":1,"labelOffset":4}},
               "shape":{"field":"grp","type":"nominal","scale":{"domain":["YMSM","AMSM"],"range":["circle","square"]},"legend":{"title":null,"orient":"right","offset":0,"padding":6,"labelFontSize":10.5,"symbolSize":30,"rowPadding":1,"labelOffset":4}}}},
             {"data":{"values":[{"x":-0.287,"y":-0.311,"t":"p = 0.013"}]},
              "mark":{"type":"text","align":"left","baseline":"middle","fontSize":10.5,"color":"#111"},
              "encoding":{"x":{"field":"x","type":"quantitative","scale":{"domain":[-0.356,0.356]}},"y":{"field":"y","type":"quantitative","scale":{"domain":[-0.356,0.356]}},"text":{"field":"t"}}}
            ]
           }
          ]
         }
        ]
       },
       {
        "spacing":0,
        "resolve":{"scale":{"x":"independent","y":"independent","color":"independent","shape":"independent","fill":"independent","stroke":"independent"}},
        "vconcat":[
         {"width":1,"height":1,"data":{"values":[]},"mark":"point"},
         {
          "title":{"text":"C","anchor":"start","fontSize":27,"fontWeight":"bold","offset":0,"dx":-8},
          "spacing":27,
          "resolve":{"scale":{"x":"independent","y":"independent","color":"independent","shape":"independent","fill":"independent","stroke":"independent"}},
          "hconcat":[
           {
            "title":{"text":"Bray–Curtis","anchor":"middle","frame":"group","fontSize":12,"fontWeight":"bold","offset":17},
            "width":195,"height":195,"view":{"stroke":"#222"},
            "layer":[
             {"data":{"values":[{"x":0.017,"y":-0.036}]},
              "mark":{"type":"point","shape":"M-0.925,0C-0.925,-0.5523,-0.5109,-1,0,-1C0.5109,-1,0.925,-0.5523,0.925,0C0.925,0.5523,0.5109,1,0,1C-0.5109,1,-0.925,0.5523,-0.925,0Z","size":25281,"filled":false,"stroke":"#e26a6a","strokeWidth":1,"opacity":1},
              "encoding":{"x":{"field":"x","type":"quantitative","scale":{"domain":[-0.435,0.435]},
                "axis":{"title":"PC1 (23.2%)","values":[-0.4,-0.2,0,0.2,0.4],"format":".1f","domain":false,"tickSize":7,"labelFontSize":10,"titleFontSize":10.5,"titleFontWeight":"normal","labelPadding":4,"titlePadding":10,"labelFlush":false,"labelOverlap":false}},
               "y":{"field":"y","type":"quantitative","scale":{"domain":[-0.435,0.435]},
                "axis":{"title":"PC2 (20.5%)","values":[-0.4,-0.2,0,0.2,0.4],"format":".1f","labelAngle":-90,"labelAlign":"center","labelBaseline":"bottom","domain":false,"tickSize":7,"labelFontSize":10,"titleFontSize":10.5,"titleFontWeight":"normal","labelPadding":4,"titlePadding":12,"labelOverlap":false}}}},
             {"data":{"values":[{"x":-0.048,"y":0.091}]},
              "mark":{"type":"point","shape":"M-1,0C-1,-0.2762,-0.5523,-0.5,0,-0.5C0.5523,-0.5,1,-0.2762,1,0C1,0.2762,0.5523,0.5,0,0.5C-0.5523,0.5,-1,0.2762,-1,0Z","size":28224,"angle":-14,"filled":false,"stroke":"#4656e0","strokeWidth":1,"opacity":1},
              "encoding":{"x":{"field":"x","type":"quantitative","scale":{"domain":[-0.435,0.435]}},"y":{"field":"y","type":"quantitative","scale":{"domain":[-0.435,0.435]}}}},
             {"data":{"values":[
               {"x":0.234,"y":0.218,"grp":"YMSM"},{"x":0.243,"y":0.191,"grp":"YMSM"},{"x":0.213,"y":0.182,"grp":"YMSM"},{"x":0.142,"y":0.173,"grp":"YMSM"},{"x":0.239,"y":0.11,"grp":"YMSM"},{"x":0.243,"y":0.103,"grp":"YMSM"},{"x":-0.173,"y":0.168,"grp":"YMSM"},{"x":-0.111,"y":0.146,"grp":"YMSM"},{"x":-0.147,"y":0.107,"grp":"YMSM"},{"x":-0.119,"y":0.072,"grp":"YMSM"},{"x":-0.17,"y":0.054,"grp":"YMSM"},{"x":-0.149,"y":0.021,"grp":"YMSM"},{"x":-0.158,"y":0.006,"grp":"YMSM"},{"x":-0.233,"y":-0.025,"grp":"YMSM"},{"x":0.002,"y":0.073,"grp":"YMSM"},{"x":0.041,"y":-0.072,"grp":"YMSM"},{"x":0.066,"y":-0.08,"grp":"YMSM"},{"x":-0.084,"y":-0.085,"grp":"YMSM"},{"x":-0.066,"y":-0.083,"grp":"YMSM"},{"x":0.144,"y":-0.077,"grp":"YMSM"},{"x":0.139,"y":-0.13,"grp":"YMSM"},{"x":-0.163,"y":-0.113,"grp":"YMSM"},{"x":-0.125,"y":-0.142,"grp":"YMSM"},{"x":-0.102,"y":-0.218,"grp":"YMSM"},{"x":0.13,"y":-0.216,"grp":"YMSM"},{"x":0.099,"y":-0.247,"grp":"YMSM"},{"x":0.122,"y":-0.252,"grp":"YMSM"},{"x":0.084,"y":-0.28,"grp":"YMSM"},{"x":0.139,"y":-0.301,"grp":"YMSM"},{"x":0.028,"y":-0.331,"grp":"YMSM"},
               {"x":-0.238,"y":0.051,"grp":"Controls"},{"x":-0.224,"y":-0.033,"grp":"Controls"},{"x":-0.191,"y":0.11,"grp":"Controls"},{"x":-0.158,"y":0.155,"grp":"Controls"},{"x":-0.061,"y":0.18,"grp":"Controls"},{"x":0.026,"y":0.206,"grp":"Controls"},{"x":0.137,"y":0.21,"grp":"Controls"},{"x":0.256,"y":0.106,"grp":"Controls"},{"x":0.163,"y":0.016,"grp":"Controls"},{"x":-0.048,"y":-0.057,"grp":"Controls"}
              ]},
              "mark":{"type":"point","filled":true,"size":28,"opacity":1},
              "encoding":{"x":{"field":"x","type":"quantitative","scale":{"domain":[-0.435,0.435]}},"y":{"field":"y","type":"quantitative","scale":{"domain":[-0.435,0.435]}},
               "color":{"field":"grp","type":"nominal","scale":{"domain":["YMSM","Controls"],"range":["#d9302c","#1a2de8"]},"legend":null},
               "shape":{"field":"grp","type":"nominal","scale":{"domain":["YMSM","Controls"],"range":["circle","triangle-up"]},"legend":null}}},
             {"data":{"values":[{"x":-0.351,"y":-0.381,"t":"p = 0.039"}]},
              "mark":{"type":"text","align":"left","baseline":"middle","fontSize":10.5,"color":"#111"},
              "encoding":{"x":{"field":"x","type":"quantitative","scale":{"domain":[-0.435,0.435]}},"y":{"field":"y","type":"quantitative","scale":{"domain":[-0.435,0.435]}},"text":{"field":"t"}}}
            ]
           },
           {
            "title":{"text":"Jaccard","anchor":"middle","frame":"group","fontSize":12,"fontWeight":"bold","offset":17},
            "width":195,"height":195,"view":{"stroke":"#222"},
            "layer":[
             {"data":{"values":[{"x":0.023,"y":0.038}]},
              "mark":{"type":"point","shape":"M-1,0C-1,-0.4949,-0.5523,-0.896,0,-0.896C0.5523,-0.896,1,-0.4949,1,0C1,0.4949,0.5523,0.896,0,0.896C-0.5523,0.896,-1,0.4949,-1,0Z","size":24838,"filled":false,"stroke":"#e26a6a","strokeWidth":1,"opacity":1},
              "encoding":{"x":{"field":"x","type":"quantitative","scale":{"domain":[-0.435,0.435]},
                "axis":{"title":"PC1 (14.8%)","values":[-0.4,-0.2,0,0.2,0.4],"format":".1f","domain":false,"tickSize":7,"labelFontSize":10,"titleFontSize":10.5,"titleFontWeight":"normal","labelPadding":4,"titlePadding":10,"labelFlush":false,"labelOverlap":false}},
               "y":{"field":"y","type":"quantitative","scale":{"domain":[-0.435,0.435]},
                "axis":{"title":"PC2 (10.4%)","values":[-0.4,-0.2,0,0.2,0.4],"format":".1f","labelAngle":-90,"labelAlign":"center","labelBaseline":"bottom","domain":false,"tickSize":7,"labelFontSize":10,"titleFontSize":10.5,"titleFontWeight":"normal","labelPadding":4,"titlePadding":12,"labelOverlap":false}}}},
             {"data":{"values":[{"x":-0.054,"y":-0.101}]},
              "mark":{"type":"point","shape":"M-0.7215,0C-0.7215,-0.5523,-0.3985,-1,0,-1C0.3985,-1,0.7215,-0.5523,0.7215,0C0.7215,0.5523,0.3985,1,0,1C-0.3985,1,-0.7215,0.5523,-0.7215,0Z","size":24964,"angle":-35,"filled":false,"stroke":"#4656e0","strokeWidth":1,"opacity":1},
              "encoding":{"x":{"field":"x","type":"quantitative","scale":{"domain":[-0.435,0.435]}},"y":{"field":"y","type":"quantitative","scale":{"domain":[-0.435,0.435]}}}},
             {"data":{"values":[
               {"x":0.25,"y":0.341,"grp":"YMSM"},{"x":0.401,"y":0.259,"grp":"YMSM"},{"x":-0.097,"y":0.246,"grp":"YMSM"},{"x":-0.085,"y":0.218,"grp":"YMSM"},{"x":-0.193,"y":0.169,"grp":"YMSM"},{"x":-0.234,"y":0.13,"grp":"YMSM"},{"x":-0.056,"y":0.13,"grp":"YMSM"},{"x":-0.003,"y":0.16,"grp":"YMSM"},{"x":0.101,"y":0.144,"grp":"YMSM"},{"x":-0.003,"y":0.11,"grp":"YMSM"},{"x":-0.018,"y":0.096,"grp":"YMSM"},{"x":-0.116,"y":0.084,"grp":"YMSM"},{"x":-0.072,"y":0.092,"grp":"YMSM"},{"x":0.139,"y":0.064,"grp":"YMSM"},{"x":-0.245,"y":0.053,"grp":"YMSM"},{"x":-0.213,"y":-0.007,"grp":"YMSM"},{"x":0.018,"y":0.027,"grp":"YMSM"},{"x":0.085,"y":0.03,"grp":"YMSM"},{"x":0.134,"y":0.018,"grp":"YMSM"},{"x":0.023,"y":-0.016,"grp":"YMSM"},{"x":-0.09,"y":-0.022,"grp":"YMSM"},{"x":0.19,"y":-0.025,"grp":"YMSM"},{"x":0.242,"y":-0.034,"grp":"YMSM"},{"x":0.336,"y":-0.108,"grp":"YMSM"},{"x":-0.093,"y":-0.117,"grp":"YMSM"},{"x":-0.054,"y":-0.123,"grp":"YMSM"},{"x":0.141,"y":-0.129,"grp":"YMSM"},{"x":0.146,"y":-0.157,"grp":"YMSM"},{"x":-0.031,"y":-0.221,"grp":"YMSM"},{"x":0.041,"y":-0.286,"grp":"YMSM"},
               {"x":-0.142,"y":0.16,"grp":"Controls"},{"x":-0.085,"y":0.096,"grp":"Controls"},{"x":-0.254,"y":0,"grp":"Controls"},{"x":-0.175,"y":-0.099,"grp":"Controls"},{"x":-0.002,"y":-0.108,"grp":"Controls"},{"x":-0.141,"y":-0.179,"grp":"Controls"},{"x":0.103,"y":-0.204,"grp":"Controls"},{"x":-0.149,"y":-0.246,"grp":"Controls"},{"x":-0.016,"y":-0.255,"grp":"Controls"},{"x":0.121,"y":-0.277,"grp":"Controls"},{"x":0.152,"y":0.018,"grp":"Controls"}
              ]},
              "mark":{"type":"point","filled":true,"size":28,"opacity":1},
              "encoding":{"x":{"field":"x","type":"quantitative","scale":{"domain":[-0.435,0.435]}},"y":{"field":"y","type":"quantitative","scale":{"domain":[-0.435,0.435]}},
               "color":{"field":"grp","type":"nominal","scale":{"domain":["YMSM","Controls"],"range":["#d9302c","#1a2de8"]},"legend":{"title":null,"orient":"right","offset":0,"padding":4,"labelFontSize":10.5,"symbolSize":30,"rowPadding":1,"labelOffset":4}},
               "shape":{"field":"grp","type":"nominal","scale":{"domain":["YMSM","Controls"],"range":["circle","triangle-up"]},"legend":{"title":null,"orient":"right","offset":0,"padding":4,"labelFontSize":10.5,"symbolSize":30,"rowPadding":1,"labelOffset":4}}}},
             {"data":{"values":[{"x":-0.349,"y":-0.379,"t":"p = 0.027"}]},
              "mark":{"type":"text","align":"left","baseline":"middle","fontSize":10.5,"color":"#111"},
              "encoding":{"x":{"field":"x","type":"quantitative","scale":{"domain":[-0.435,0.435]}},"y":{"field":"y","type":"quantitative","scale":{"domain":[-0.435,0.435]}},"text":{"field":"t"}}}
            ]
           }
          ]
         }
        ]
       }
      ]
     }
    ]
   }
  ]
 },
 {
  "spacing":0,
  "resolve":{"scale":{"x":"independent","y":"independent","color":"independent","shape":"independent","fill":"independent","stroke":"independent"}},
  "hconcat":[
   {"width":1,"height":1,"data":{"values":[]},"mark":"point"},
   {
    "spacing":27,
    "resolve":{"scale":{"x":"independent","y":"independent","color":"independent","shape":"independent","fill":"independent","stroke":"independent"}},
    "hconcat":[
     {
      "title":{"text":"D","anchor":"start","fontSize":27,"fontWeight":"bold","offset":-120},
      "bounds":"flush",
      "spacing":9,
      "resolve":{"scale":{"x":"independent","y":"independent","color":"independent","shape":"independent","fill":"independent","stroke":"independent"}},
      "vconcat":[
       {"width":731,"height":125,"data":{"values":[]},"mark":"point"},
       {
        "width":731,"height":143,
        "data":{"name":"dsum"},
        "encoding":{"x":{"field":"c","type":"nominal","scale":{"domain":["01Y","01A","02Y","02A","03Y","03A","04Y","04A","05Y","05A","06Y","06A","07Y","07A","08Y","08A","09Y","09A"],"paddingInner":0.36,"paddingOuter":0.3},"axis":null}},
        "layer":[
         {"mark":{"type":"rule","color":"#111","strokeWidth":1.8,"clip":true},
          "encoding":{"y":{"field":"min","type":"quantitative","scale":{"domain":[0.0865,0.25]},
            "axis":{"title":null,"values":[0.1,0.15,0.2,0.25],"format":".2f","labelFontSize":11,"labelFontWeight":"bold","tickSize":8,"tickWidth":2,"domainWidth":2.5,"labelPadding":2,"labelOverlap":false}},
           "y2":{"field":"max"}}},
         {"mark":{"type":"bar","fill":"white","stroke":"#111","strokeWidth":1.8,"clip":true},
          "encoding":{"y":{"field":"q1","type":"quantitative","scale":{"domain":[0.0865,0.25]}},"y2":{"field":"q3"}}},
         {"mark":{"type":"tick","color":"#111","thickness":1.5,"size":26,"opacity":1,"clip":true},
          "encoding":{"y":{"field":"med","type":"quantitative","scale":{"domain":[0.0865,0.25]}}}},
         {"mark":{"type":"tick","color":"#111","thickness":1.8,"size":12,"opacity":1,"clip":true},
          "encoding":{"y":{"field":"max","type":"quantitative","scale":{"domain":[0.0865,0.25]}}}},
         {"mark":{"type":"square","opacity":0,"size":1},
          "encoding":{"y":{"field":"max","type":"quantitative","scale":{"domain":[0.0865,0.25]}},
           "fill":{"field":"g","type":"nominal","scale":{"domain":["Prevotella","Peptostreptococcus","Peptoniphilus","Anaerococcus","Lawsonella","Eubacterium halli group","Ruminoclostridium.6","Olsenella","Ruminococcaceae.UCG.009"],"range":["#2a46ef","#f0e444","#519494","#dc3d27","#eb9a3c","#7a2e90","#66b947","#a17a48","#a5a5a5"]},
            "legend":{"title":null,"orient":"none","legendX":596,"legendY":56,"symbolType":"M-1,-0.6H1V0.6H-1Z","symbolSize":300,"symbolStrokeWidth":0,"symbolOpacity":1,"labelFontSize":11,"labelFontStyle":"italic","labelOffset":8,"rowPadding":3.5}}}},
         {"data":{"name":"dpts"},
          "transform":[{"filter":"datum.v >= 0.0865"},{"lookup":"c","from":{"data":{"name":"dsum"},"key":"c","fields":["g"]}}],
          "mark":{"type":"point","shape":"circle","filled":false,"size":36,"strokeWidth":1.5,"opacity":1},
          "encoding":{"y":{"field":"v","type":"quantitative","scale":{"domain":[0.0865,0.25]}},
           "stroke":{"field":"g","type":"nominal","scale":{"domain":["Prevotella","Peptostreptococcus","Peptoniphilus","Anaerococcus","Lawsonella","Eubacterium halli group","Ruminoclostridium.6","Olsenella","Ruminococcaceae.UCG.009"],"range":["#2a46ef","#f0e444","#519494","#dc3d27","#eb9a3c","#7a2e90","#66b947","#a17a48","#a5a5a5"]},"legend":null}}},
         {"data":{"values":[{"a":"01Y","b":"01A","y":0.2456,"t":"**"},{"a":"02Y","b":"02A","y":0.1317,"t":"*"},{"a":"03Y","b":"03A","y":0.107,"t":"**"},{"a":"04Y","b":"04A","y":0.0893,"t":"*"},{"a":"07Y","b":"07A","y":0.0954,"t":"**"}]},
          "mark":{"type":"rule","strokeWidth":1.8,"color":"#111"},
          "encoding":{"x":{"field":"a","type":"nominal"},"x2":{"field":"b"},"y":{"field":"y","type":"quantitative","scale":{"domain":[0.0865,0.25]}}}},
         {"data":{"values":[{"a":"01Y","b":"01A","y":0.2456,"t":"**"},{"a":"02Y","b":"02A","y":0.1317,"t":"*"},{"a":"03Y","b":"03A","y":0.107,"t":"**"},{"a":"04Y","b":"04A","y":0.0893,"t":"*"},{"a":"07Y","b":"07A","y":0.0954,"t":"**"}]},
          "mark":{"type":"text","fontSize":20,"fontWeight":"bold","baseline":"alphabetic","dx":20,"color":"#111"},
          "encoding":{"x":{"field":"a","type":"nominal"},"y":{"field":"y","type":"quantitative","scale":{"domain":[0.0865,0.25]}},"text":{"field":"t"}}}
        ]
       },
       {
        "width":731,"height":458,
        "data":{"name":"dsum"},
        "encoding":{"x":{"field":"c","type":"nominal","scale":{"domain":["01Y","01A","02Y","02A","03Y","03A","04Y","04A","05Y","05A","06Y","06A","07Y","07A","08Y","08A","09Y","09A"],"paddingInner":0.36,"paddingOuter":0.3},
          "axis":{"title":null,"labelAngle":0,"labelFontSize":9.5,"labelExpr":"slice(datum.label,-1)=='Y'?'YMSM':'AMSM'","tickSize":7,"tickWidth":2,"domainWidth":2.5,"labelPadding":3}}},
        "layer":[
         {"mark":{"type":"rule","color":"#111","strokeWidth":1.8,"clip":true},
          "encoding":{"y":{"field":"min","type":"quantitative","scale":{"domain":[0,0.0306]},
            "axis":{"title":"Relative Abundance","titleFontSize":12,"titleFontWeight":"bold","titlePadding":20,"titleY":153,"values":[0,0.01,0.02,0.03],"format":".2f","labelFontSize":11,"labelFontWeight":"bold","tickSize":8,"tickWidth":2,"domainWidth":2.5,"labelPadding":2,"labelOverlap":false}},
           "y2":{"field":"max"}}},
         {"mark":{"type":"bar","fill":"white","stroke":"#111","strokeWidth":1.8,"clip":true},
          "encoding":{"y":{"field":"q1","type":"quantitative","scale":{"domain":[0,0.0306]}},"y2":{"field":"q3"}}},
         {"mark":{"type":"tick","color":"#111","thickness":1.5,"size":26,"opacity":1,"clip":true},
          "encoding":{"y":{"field":"med","type":"quantitative","scale":{"domain":[0,0.0306]}}}},
         {"mark":{"type":"tick","color":"#111","thickness":1.8,"size":12,"opacity":1,"clip":true},
          "encoding":{"y":{"field":"max","type":"quantitative","scale":{"domain":[0,0.0306]}}}},
         {"data":{"name":"dpts"},
          "transform":[{"filter":"datum.v <= 0.0306"},{"lookup":"c","from":{"data":{"name":"dsum"},"key":"c","fields":["g"]}}],
          "mark":{"type":"point","shape":"circle","filled":false,"size":36,"strokeWidth":1.5,"opacity":1},
          "encoding":{"y":{"field":"v","type":"quantitative","scale":{"domain":[0,0.0306]}},
           "stroke":{"field":"g","type":"nominal","scale":{"domain":["Prevotella","Peptostreptococcus","Peptoniphilus","Anaerococcus","Lawsonella","Eubacterium halli group","Ruminoclostridium.6","Olsenella","Ruminococcaceae.UCG.009"],"range":["#2a46ef","#f0e444","#519494","#dc3d27","#eb9a3c","#7a2e90","#66b947","#a17a48","#a5a5a5"]},"legend":null}}},
         {"data":{"values":[{"a":"05Y","b":"05A","y":0.01057,"t":"**"},{"a":"06Y","b":"06A","y":0.01217,"t":"**"},{"a":"08Y","b":"08A","y":0.00225,"t":"**"},{"a":"09Y","b":"09A","y":0.0023,"t":"***"}]},
          "mark":{"type":"rule","strokeWidth":1.8,"color":"#111"},
          "encoding":{"x":{"field":"a","type":"nominal"},"x2":{"field":"b"},"y":{"field":"y","type":"quantitative","scale":{"domain":[0,0.0306]}}}},
         {"data":{"values":[{"a":"05Y","b":"05A","y":0.01057,"t":"**"},{"a":"06Y","b":"06A","y":0.01217,"t":"**"},{"a":"08Y","b":"08A","y":0.00225,"t":"**"},{"a":"09Y","b":"09A","y":0.0023,"t":"***"}]},
          "mark":{"type":"text","fontSize":20,"fontWeight":"bold","baseline":"alphabetic","dx":20,"color":"#111"},
          "encoding":{"x":{"field":"a","type":"nominal"},"y":{"field":"y","type":"quantitative","scale":{"domain":[0,0.0306]}},"text":{"field":"t"}}}
        ]
       }
      ]
     },
     {
      "spacing":0,
      "resolve":{"scale":{"x":"independent","y":"independent","color":"independent","shape":"independent","fill":"independent","stroke":"independent"}},
      "vconcat":[
       {"width":1,"height":1,"data":{"values":[]},"mark":"point"},
       {
        "spacing":37,
        "resolve":{"scale":{"x":"independent","y":"independent","color":"independent","shape":"independent","fill":"independent","stroke":"independent"}},
        "vconcat":[
         {
          "title":{"text":"E","anchor":"start","fontSize":27,"fontWeight":"bold","offset":-24,"dx":-16},
          "width":404,"height":395,
          "data":{"name":"esum"},
          "encoding":{"x":{"field":"c","type":"nominal","scale":{"domain":["1Y","1A","2Y","2A","3Y","3A","4Y","4A","5Y","5A"],"paddingInner":0.36,"paddingOuter":0.39},
            "axis":{"title":null,"labelAngle":0,"labelFontSize":9,"labelExpr":"slice(datum.label,-1)=='Y'?'YMSM':'AMSM'","tickSize":7,"tickWidth":2,"domainWidth":2.5,"labelPadding":3}}},
          "layer":[
           {"mark":{"type":"rule","color":"#222","strokeWidth":1.5},
            "encoding":{"y":{"field":"min","type":"quantitative","scale":{"domain":[0,1]},
              "axis":{"title":"Proportion of Presence","titleFontSize":12,"titleFontWeight":"bold","titlePadding":20,"values":[0,0.5,1],"format":".1f","labelFontSize":8,"tickSize":6,"tickWidth":2,"domainWidth":2.5,"labelPadding":2,"labelOverlap":false}},
             "y2":{"field":"max"}}},
           {"mark":{"type":"bar","fill":"white","stroke":"#222","strokeWidth":1.5},
            "encoding":{"y":{"field":"q1","type":"quantitative","scale":{"domain":[0,1]}},"y2":{"field":"q3"}}},
           {"mark":{"type":"tick","color":"#222","thickness":1.5,"size":25,"opacity":1},
            "encoding":{"y":{"field":"med","type":"quantitative","scale":{"domain":[0,1]}}}},
           {"mark":{"type":"tick","color":"#222","thickness":1.5,"size":11,"opacity":1},
            "encoding":{"y":{"field":"max","type":"quantitative","scale":{"domain":[0,1]}}}},
           {"mark":{"type":"square","opacity":0,"size":1},
            "encoding":{"y":{"field":"max","type":"quantitative","scale":{"domain":[0,1]}},
             "fill":{"field":"g","type":"nominal","scale":{"domain":["Fusobacterium","Lawsonella","Negativibacillus","Olsenella","Ruminococcaceae.UCG.009"],"range":["#519392","#e8952f","#aaa6f5","#9b7547","#a3a3a3"]},
              "legend":{"title":null,"orient":"right","offset":2,"symbolType":"M-1,-0.8H1V0.8H-1Z","symbolSize":289,"symbolStrokeWidth":0,"symbolOpacity":1,"labelFontSize":12,"labelFontStyle":"italic","labelOffset":8,"rowPadding":0.5}}}},
           {"data":{"name":"epts"},
            "transform":[{"lookup":"c","from":{"data":{"name":"esum"},"key":"c","fields":["g"]}}],
            "mark":{"type":"point","shape":"circle","filled":false,"size":34,"strokeWidth":1.2,"opacity":1},
            "encoding":{"y":{"field":"v","type":"quantitative","scale":{"domain":[0,1]}},
             "stroke":{"field":"g","type":"nominal","scale":{"domain":["Fusobacterium","Lawsonella","Negativibacillus","Olsenella","Ruminococcaceae.UCG.009"],"range":["#519392","#e8952f","#aaa6f5","#9b7547","#a3a3a3"]},"legend":null}}},
           {"data":{"values":[{"a":"1Y","b":"1A","y":1.04,"t":"*"},{"a":"2Y","b":"2A","y":1.04,"t":"*"},{"a":"3Y","b":"3A","y":1.04,"t":"*"},{"a":"4Y","b":"4A","y":0.996,"t":"*"},{"a":"5Y","b":"5A","y":0.996,"t":"***"}]},
            "mark":{"type":"rule","strokeWidth":1.5,"color":"#111"},
            "encoding":{"x":{"field":"a","type":"nominal"},"x2":{"field":"b"},"y":{"field":"y","type":"quantitative","scale":{"domain":[0,1]}}}},
           {"data":{"values":[{"a":"1Y","b":"1A","y":1.04,"t":"*"},{"a":"2Y","b":"2A","y":1.04,"t":"*"},{"a":"3Y","b":"3A","y":1.04,"t":"*"},{"a":"4Y","b":"4A","y":0.996,"t":"*"},{"a":"5Y","b":"5A","y":0.996,"t":"***"}]},
            "mark":{"type":"text","fontSize":17,"fontWeight":"bold","baseline":"alphabetic","dx":19.5,"color":"#111"},
            "encoding":{"x":{"field":"a","type":"nominal"},"y":{"field":"y","type":"quantitative","scale":{"domain":[0,1]}},"text":{"field":"t"}}}
          ]
         },
         {
          "spacing":0,
          "resolve":{"scale":{"x":"independent","y":"independent","color":"independent","shape":"independent","fill":"independent","stroke":"independent"}},
          "hconcat":[
           {"width":10,"height":1,"data":{"values":[]},"mark":"point"},
           {
            "title":{"text":"F","anchor":"start","fontSize":27,"fontWeight":"bold","offset":-10,"dx":-43},
            "width":228,"height":200,
            "data":{"name":"fsum"},
            "encoding":{"x":{"field":"c","type":"nominal","scale":{"domain":["YMSM","Controls"],"paddingInner":0.34,"paddingOuter":0.35},
              "axis":{"title":null,"labelAngle":0,"labelFontSize":14,"tickSize":6,"tickWidth":2,"domainWidth":2.5,"labelPadding":7}}},
            "layer":[
             {"mark":{"type":"rule","color":"#111","strokeWidth":1.8},
              "encoding":{"y":{"field":"min","type":"quantitative","scale":{"domain":[0,1]},
                "axis":{"title":"Proportion of Presence","titleFontSize":14,"titleFontWeight":"bold","titlePadding":28,"values":[0,0.5,1],"format":".1f","labelFontSize":12,"labelFontWeight":"bold","tickSize":6,"tickWidth":2,"domainWidth":2.5,"labelPadding":3,"labelOverlap":false}},
               "y2":{"field":"max"}}},
             {"mark":{"type":"bar","fill":"white","stroke":"#111","strokeWidth":1.8},
              "encoding":{"y":{"field":"q1","type":"quantitative","scale":{"domain":[0,1]}},"y2":{"field":"q3"}}},
             {"mark":{"type":"square","opacity":0,"size":1},
              "encoding":{"y":{"field":"max","type":"quantitative","scale":{"domain":[0,1]}},
               "fill":{"field":"g","type":"nominal","scale":{"domain":["Fusobacterium"],"range":["#519392"]},
                "legend":{"title":null,"orient":"right","offset":0,"symbolType":"M-1,-0.6H1V0.6H-1Z","symbolSize":400,"symbolStrokeWidth":0,"symbolOpacity":1,"labelFontSize":14,"labelFontStyle":"italic","labelOffset":9}}}},
             {"data":{"name":"fpts"},
              "transform":[{"lookup":"c","from":{"data":{"name":"fsum"},"key":"c","fields":["g"]}}],
              "mark":{"type":"point","shape":"circle","filled":false,"size":75,"strokeWidth":1.6,"opacity":1},
              "encoding":{"y":{"field":"v","type":"quantitative","scale":{"domain":[0,1]}},
               "stroke":{"field":"g","type":"nominal","scale":{"domain":["Fusobacterium"],"range":["#519392"]},"legend":null}}},
             {"data":{"values":[{"a":"YMSM","b":"Controls","y":1.14,"t":"***"}]},
              "mark":{"type":"rule","strokeWidth":1.8,"color":"#111"},
              "encoding":{"x":{"field":"a","type":"nominal"},"x2":{"field":"b"},"y":{"field":"y","type":"quantitative","scale":{"domain":[0,1]}}}},
             {"data":{"values":[{"a":"YMSM","b":"Controls","y":1.14,"t":"***"}]},
              "mark":{"type":"text","fontSize":20,"fontWeight":"bold","baseline":"alphabetic","dx":48,"color":"#111"},
              "encoding":{"x":{"field":"a","type":"nominal"},"y":{"field":"y","type":"quantitative","scale":{"domain":[0,1]}},"text":{"field":"t"}}}
            ]
           }
          ]
         }
        ]
       }
      ]
     }
    ]
   }
  ]
 }
]
}
